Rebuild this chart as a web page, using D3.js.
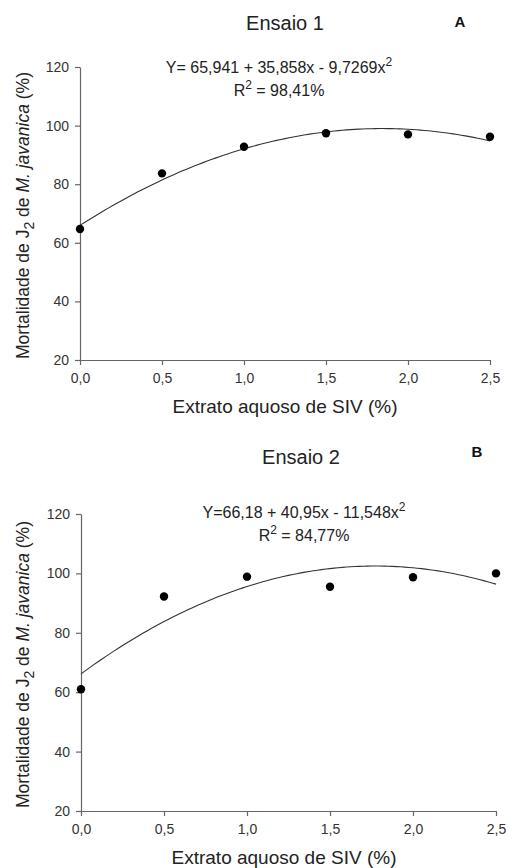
<!DOCTYPE html>
<html>
<head>
<meta charset="utf-8">
<script src="https://cdn.jsdelivr.net/npm/d3@7"></script>
<style>
  body { margin: 0; background: #fff; }
  svg { display: block; font-family: "Liberation Sans", Arial, sans-serif; }
  .axis path, .axis line { stroke: #666; stroke-width: 1.2; }
  .axis text { fill: #333; font-size: 14px; }
</style>
</head>
<body>
<div id="chart"></div>
<script>
const width = 508;
const height = 868;

// data
const doses = [0.0, 0.5, 1.0, 1.5, 2.0, 2.5];
const mortEnsaio1 = [64.7, 83.7, 92.8, 97.4, 97.0, 96.2];
const mortEnsaio2 = [61.0, 92.2, 98.9, 95.5, 98.7, 100.0];
const coefEnsaio1 = [65.941, 35.858, -9.7269];
const coefEnsaio2 = [66.18, 40.95, -11.548];
const xTicks = [0, 0.5, 1.0, 1.5, 2.0, 2.5];
const yTicks = [20, 40, 60, 80, 100, 120];

const panels = [
  {
    title: 'Ensaio 1', letter: 'A', values: mortEnsaio1, coef: coefEnsaio1,
    eq: ['Y= 65,941 + 35,858x - 9,7269x', 'R', ' = 98,41%'],
    left: 80, right: 490, top: 67, bottom: 360,
    titleX: 285, titleY: 30, letterX: 460, letterY: 27,
    eqX: 279, eqY: 73, xTitleX: 285,
  },
  {
    title: 'Ensaio 2', letter: 'B', values: mortEnsaio2, coef: coefEnsaio2,
    eq: ['Y=66,18 + 40,95x - 11,548x', 'R', ' = 84,77%'],
    left: 81, right: 496, top: 514, bottom: 811,
    titleX: 301, titleY: 464, letterX: 477, letterY: 457,
    eqX: 304, eqY: 518, xTitleX: 284,
  },
];

const svg = d3.select('#chart')
  .append('svg')
  .attr('width', width)
  .attr('height', height);

const commaFmt = d => d3.format('.1f')(d).replace('.', ',');

function drawPanel(p) {
  const x = d3.scaleLinear().domain([0, 2.5]).range([p.left, p.right]);
  const y = d3.scaleLinear().domain([20, 120]).range([p.bottom, p.top]);
  const g = svg.append('g');

  g.append('g')
    .attr('class', 'axis')
    .attr('transform', `translate(0, ${p.bottom})`)
    .call(d3.axisBottom(x).tickValues(xTicks).tickFormat(commaFmt).tickSize(5).tickSizeOuter(0).tickPadding(8));

  g.append('g')
    .attr('class', 'axis')
    .attr('transform', `translate(${p.left}, 0)`)
    .call(d3.axisLeft(y).tickValues(yTicks).tickSize(5).tickSizeOuter(0).tickPadding(6));

  // fitted curve from the printed regression
  const fit = d => p.coef[0] + p.coef[1] * d + p.coef[2] * d * d;
  const samples = d3.range(0, 2.5001, 0.025);
  g.append('path')
    .datum(samples)
    .attr('fill', 'none')
    .attr('stroke', '#333')
    .attr('stroke-width', 1.1)
    .attr('d', d3.line().x(d => x(d)).y(d => y(fit(d))));

  g.selectAll('circle')
    .data(doses)
    .enter()
    .append('circle')
    .attr('cx', d => x(d))
    .attr('cy', (d, i) => y(p.values[i]))
    .attr('r', 4.2)
    .attr('fill', '#000');

  // titles
  g.append('text')
    .attr('x', p.titleX)
    .attr('y', p.titleY)
    .attr('text-anchor', 'middle')
    .attr('font-size', 20)
    .attr('fill', '#222')
    .text(p.title);

  g.append('text')
    .attr('x', p.letterX)
    .attr('y', p.letterY)
    .attr('text-anchor', 'middle')
    .attr('font-size', 15)
    .attr('font-weight', 'bold')
    .attr('fill', '#111')
    .text(p.letter);

  // equation
  const eq = g.append('text')
    .attr('x', p.eqX)
    .attr('y', p.eqY)
    .attr('text-anchor', 'middle')
    .attr('font-size', 16)
    .attr('fill', '#222');
  eq.append('tspan').text(p.eq[0]);
  eq.append('tspan').attr('dy', -7).attr('font-size', 12).text('2');

  const r2 = g.append('text')
    .attr('x', p.eqX)
    .attr('y', p.eqY + 23)
    .attr('text-anchor', 'middle')
    .attr('font-size', 16)
    .attr('fill', '#222');
  r2.append('tspan').text(p.eq[1]);
  r2.append('tspan').attr('dy', -7).attr('font-size', 12).text('2');
  r2.append('tspan').attr('dy', 7).text(p.eq[2]);

  // axis labels
  g.append('text')
    .attr('x', p.xTitleX)
    .attr('y', p.bottom + 53)
    .attr('text-anchor', 'middle')
    .attr('font-size', 19)
    .attr('fill', '#222')
    .text('Extrato aquoso de SIV (%)');

  const yl = g.append('text')
    .attr('transform', `translate(29, ${(p.top + p.bottom) / 2 + 2}) rotate(-90)`)
    .attr('text-anchor', 'middle')
    .attr('font-size', 17.5)
    .attr('fill', '#222');
  yl.append('tspan').text('Mortalidade de J');
  yl.append('tspan').attr('dy', 5).attr('font-size', 14).text('2');
  yl.append('tspan').attr('dy', -5).text(' de ');
  yl.append('tspan').attr('font-style', 'italic').text('M. javanica');
  yl.append('tspan').text(' (%)');
}

panels.forEach(drawPanel);
</script>
</body>
</html>
